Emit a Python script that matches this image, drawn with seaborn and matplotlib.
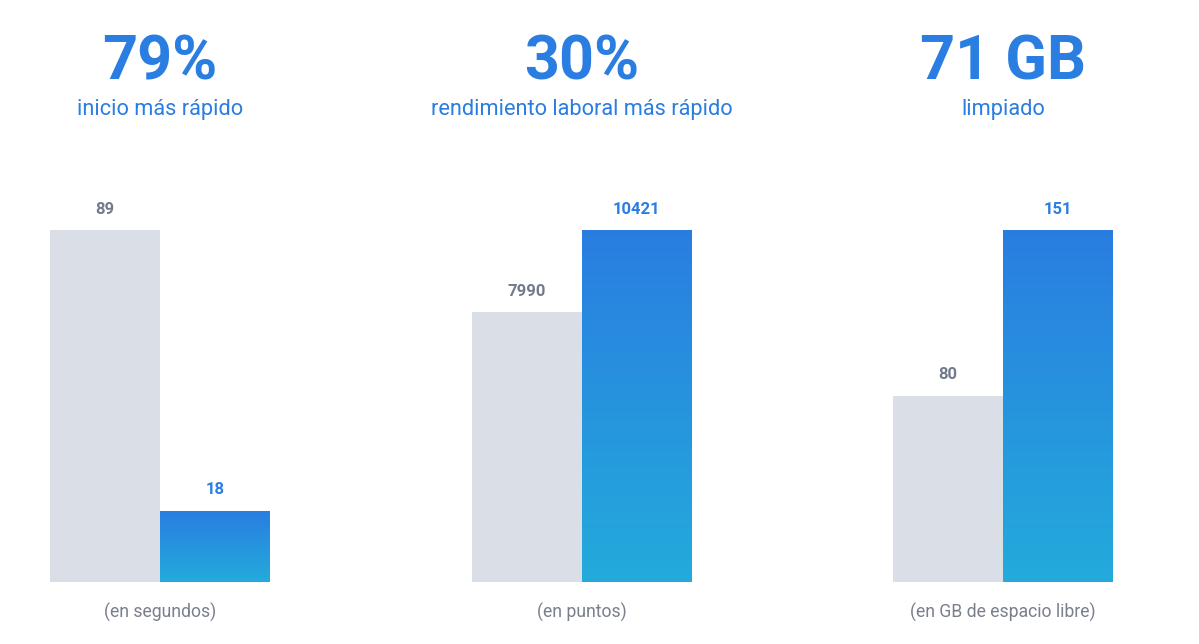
import numpy as np
import seaborn as sb
import matplotlib.pyplot as plt
from matplotlib.colors import LinearSegmentedColormap

# Data
headlines = ["79%", "30%", "71 GB"]
subtitles = ["inicio más rápido", "rendimiento laboral más rápido", "limpiado"]
units = ["(en segundos)", "(en puntos)", "(en GB de espacio libre)"]
before = [89, 7990, 80]
after = [18, 10421, 151]
bar_names = ["antes", "después"]

GREY = "#dadee6"
BLUE = "#2a7de1"
BLUE_LOW = "#23abdb"
LABEL_GREY = "#737a8c"
CAPTION_GREY = "#7a7f8c"

sb.set_theme(style="white")
plt.rcParams['font.family'] = ['Roboto', 'DejaVu Sans']

W, H = 1199, 644
fig = plt.figure(figsize=(W / 100, H / 100), dpi=100)
fig.patch.set_facecolor("white")

lefts = [50, 472, 893]
centers = [160, 582, 1003]
bar_w = 220
base_y = 582
full_h = 352

grad = LinearSegmentedColormap.from_list("g", [BLUE_LOW, BLUE])

for i in range(3):
    ax = fig.add_axes([lefts[i] / W, (H - base_y) / H, bar_w / W, full_h / H])
    vals = [before[i], after[i]]
    sb.barplot(x=bar_names, y=vals, hue=bar_names, palette=[GREY, BLUE],
               width=1, saturation=1, legend=False, linewidth=0, ax=ax)
    top = max(vals)

    # gradient on the blue bar
    p = ax.patches[1]
    x0, y0 = p.get_x(), p.get_y()
    x1, y1 = x0 + p.get_width(), y0 + p.get_height()
    g = np.linspace(0, 1, 256).reshape(-1, 1)
    im = ax.imshow(g, cmap=grad, aspect="auto", origin="lower",
                   extent=[x0, x1, y0, y1], zorder=3)
    im.set_clip_path(p)
    ax.set_ylim(0, top)
    ax.set_xlim(-0.5, 1.5)

    for j, v in enumerate(vals):
        ax.annotate(str(v), (j, v), xytext=(0, 15), textcoords="offset points",
                    ha="center", va="center", fontsize=12, fontweight="bold",
                    color=LABEL_GREY if j == 0 else BLUE, annotation_clip=False)

    ax.axis("off")

    fig.text(centers[i] / W, 1 - 80 / H, headlines[i], ha="center", va="baseline",
             fontsize=44, fontweight="bold", color=BLUE)
    fig.text(centers[i] / W, 1 - 114.5 / H, subtitles[i], ha="center", va="baseline",
             fontsize=15.7, color=BLUE)
    fig.text(centers[i] / W, 1 - 612 / H, units[i], ha="center", va="center",
             fontsize=12.7, color=CAPTION_GREY)

fig.savefig("out.png", dpi=100, facecolor="white")
